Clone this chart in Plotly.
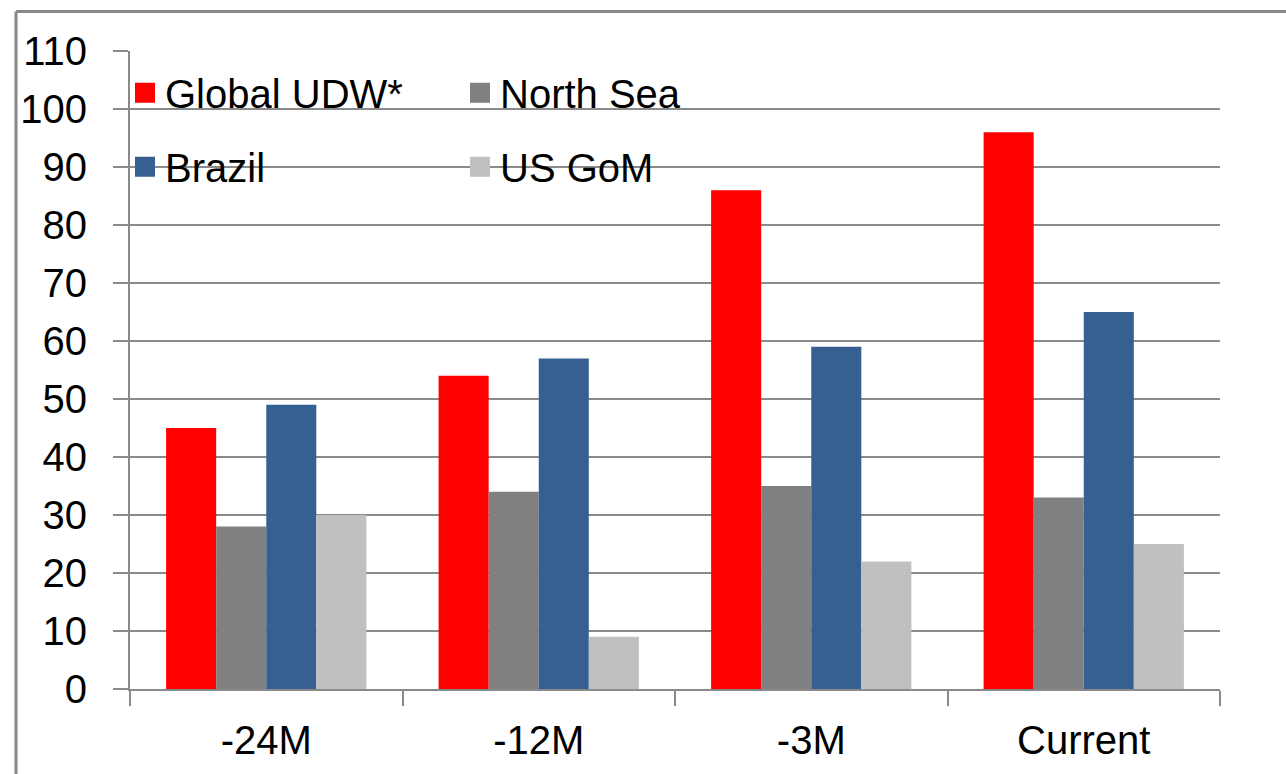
import plotly.graph_objects as go

# Periods on the category axis
categories = ["-24M", "-12M", "-3M", "Current"]

# Series values per region
global_udw = [45, 54, 86, 96]
north_sea = [28, 34, 35, 33]
brazil = [49, 57, 59, 65]
us_gom = [30, 9, 22, 25]

y_ticks = [0, 10, 20, 30, 40, 50, 60, 70, 80, 90, 100, 110]

series = [
    ("Global UDW*", global_udw, "#FF0000"),
    ("North Sea", north_sea, "#808080"),
    ("Brazil", brazil, "#376092"),
    ("US GoM", us_gom, "#C0C0C0"),
]

FONT = "Liberation Sans, Arial, sans-serif"
GRID = "#8A8A8A"

L, R, T, B = 130, 66, 51, 83
W, H = 1286, 774
pw, ph = W - L - R, H - T - B


def px_x(x):
    return (x - L) / pw


def px_y(y):
    return (H - B - y) / ph


# legend key centres (pixels): two columns, two rows
legend_keys = [(145, 93), (480, 93), (145, 167), (480, 167)]
legend_ids = ["legend", "legend2", "legend3", "legend4"]

fig = go.Figure()
for name, vals, color in series:
    fig.add_trace(go.Bar(
        x=categories, y=vals, name=name, marker=dict(color=color, line=dict(width=0)),
        showlegend=False,
    ))

# Legend keys drawn as large squares, one legend box per entry
for (name, _, color), lg in zip(series, legend_ids):
    fig.add_trace(go.Scatter(
        x=[None], y=[None], mode="markers", name=name, legend=lg,
        marker=dict(symbol="square", size=16, color=color, line=dict(color=color, width=4)),
    ))

legend_layout = {}
for lg, (kx, ky) in zip(legend_ids, legend_keys):
    legend_layout[lg] = dict(
        x=px_x(kx - 20), y=px_y(ky), xanchor="left", yanchor="middle",
        bgcolor="rgba(0,0,0,0)", borderwidth=0, itemwidth=30,
        font=dict(family=FONT, size=40, color="#000000"),
    )

fig.update_layout(
    width=W, height=H,
    margin=dict(l=L, r=R, t=T, b=B, pad=0),
    paper_bgcolor="white", plot_bgcolor="white",
    barmode="group", bargap=0.265, bargroupgap=0,
    font=dict(family=FONT, size=40, color="#000000"),
    xaxis=dict(
        type="category", showgrid=False, showline=True, linecolor=GRID, linewidth=2,
        ticks="outside", tickson="boundaries", ticklen=15, tickcolor=GRID, tickwidth=2,
        ticklabelstandoff=15,
        tickfont=dict(family=FONT, size=40, color="#000000"),
        zeroline=False,
    ),
    yaxis=dict(
        range=[0, 110], tickvals=y_ticks, showgrid=True, gridcolor=GRID, gridwidth=2,
        showline=True, linecolor=GRID, linewidth=2,
        ticks="outside", ticklen=15, tickcolor=GRID, tickwidth=2,
        ticklabelstandoff=18,
        tickfont=dict(family=FONT, size=40, color="#000000"),
        zeroline=False,
    ),
    shapes=[
        # outer chart frame (top and left edges)
        dict(type="line", xref="paper", yref="paper",
             x0=px_x(16), x1=px_x(1300), y0=px_y(11.5), y1=px_y(11.5),
             line=dict(color="#888888", width=3)),
        dict(type="line", xref="paper", yref="paper",
             x0=px_x(16), x1=px_x(16), y0=px_y(11.5), y1=px_y(790),
             line=dict(color="#888888", width=3)),
    ],
    **legend_layout,
)

fig.write_html("out.html")
